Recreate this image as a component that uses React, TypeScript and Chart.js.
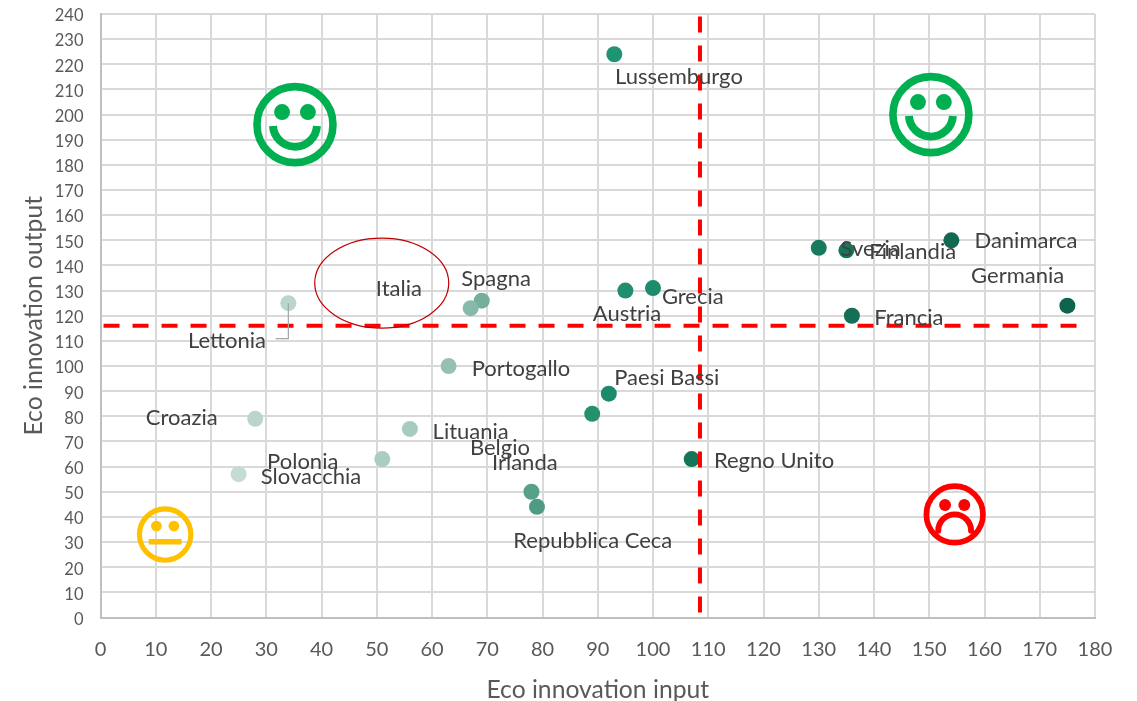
import React, { useEffect, useRef } from "react";
import { Chart, registerables } from "chart.js";

Chart.register(...registerables);

const countries = ["Lussemburgo","Danimarca","Germania","Francia","Svezia","Finlandia","Grecia","Austria","Spagna","Italia","Lettonia","Portogallo","Paesi Bassi","Belgio","Regno Unito","Croazia","Lituania","Polonia","Slovacchia","Irlanda","Repubblica Ceca"];
const inputValues = [93,154,175,136,130,135,100,95,69,67,34,63,92,89,107,28,56,51,25,78,79];
const outputValues = [224,150,124,120,147,146,131,130,126,123,125,100,89,81,63,79,75,63,57,50,44];
const pointColors = ["#1E9473","#116950","#0F644D","#146F56","#177A5E","#157459","#1D8C6C","#218E70","#73AF9C","#86B9A9","#BAD5CC","#96C0B3","#1D8A6B","#24906F","#147558","#BBD5CD","#A8CBBF","#AACDC2","#C4DCD5","#57A08A","#4E9A84"];
const labelX = [104.7,167.5,166,146.3,139.4,147,107.2,95.3,71.6,54,22.9,76.1,102.5,72.3,121.9,14.7,67,36.6,38.1,76.8,89.1];
const labelY = [214.8,149.6,136,119.3,146.4,145.2,127.3,120.9,134.8,130.8,110.1,99,95.4,67.6,62.4,79.5,73.9,62,56,61.6,30.5];
const thresholdInput = 108.5;
const thresholdOutput = 116;
const smileys = [
  { x: 35.2, y: 196, r: 38, color: "#00B050", mood: "happy" },
  { x: 150.3, y: 200, r: 38, color: "#00B050", mood: "happy" },
  { x: 11.7, y: 33, r: 25.7, color: "#FFC000", mood: "neutral" },
  { x: 154.6, y: 41, r: 28.3, color: "#FF0000", mood: "sad" },
];

const annotations = {
  id: "annotations",
  afterDatasetsDraw(chart: any) {
    const { ctx, scales } = chart;
    const X = (v: number) => scales.x.getPixelForValue(v);
    const Y = (v: number) => scales.y.getPixelForValue(v);
    ctx.save();

    // Lettonia leader line
    ctx.strokeStyle = "#A6A6A6";
    ctx.lineWidth = 1.2;
    ctx.beginPath();
    ctx.moveTo(X(34), Y(125));
    ctx.lineTo(X(34), Y(110.9));
    ctx.lineTo(X(31.7), Y(110.9));
    ctx.stroke();

    // Italia ellipse
    ctx.strokeStyle = "#C00000";
    ctx.lineWidth = 1.2;
    ctx.beginPath();
    ctx.ellipse(X(50.9), Y(133), 67, 45, 0, 0, Math.PI * 2);
    ctx.stroke();

    // labels
    ctx.fillStyle = "#404040";
    ctx.font = "22px Lato, 'Open Sans', sans-serif";
    ctx.textAlign = "center";
    ctx.textBaseline = "middle";
    countries.forEach((c, i) => ctx.fillText(c, X(labelX[i]), Y(labelY[i])));

    // smileys
    smileys.forEach((s) => {
      const cx = X(s.x), cy = Y(s.y), r = s.r;
      ctx.strokeStyle = s.color;
      ctx.fillStyle = s.color;
      ctx.lineWidth = r * 0.2;
      ctx.lineCap = "butt";
      ctx.beginPath();
      ctx.arc(cx, cy, r, 0, Math.PI * 2);
      ctx.stroke();
      [-0.34, 0.34].forEach((d) => {
        ctx.beginPath();
        ctx.arc(cx + d * r, cy - r * 0.33, r * 0.21, 0, Math.PI * 2);
        ctx.fill();
      });
      ctx.lineWidth = r * 0.21;
      ctx.beginPath();
      if (s.mood === "happy") {
        ctx.arc(cx, cy, r * 0.58, Math.PI * 0.02, Math.PI * 0.98);
        ctx.stroke();
      } else if (s.mood === "sad") {
        ctx.lineCap = "round";
        ctx.arc(cx, cy + r * 0.58, r * 0.58, Math.PI, Math.PI * 2);
        ctx.stroke();
      } else {
        ctx.moveTo(cx - r * 0.64, cy + r * 0.28);
        ctx.lineTo(cx + r * 0.64, cy + r * 0.28);
        ctx.stroke();
      }
    });
    ctx.restore();
  },
};

export default function App() {
  const ref = useRef<HTMLCanvasElement>(null);
  useEffect(() => {
    const font = "Lato, 'Open Sans', sans-serif";
    const chart = new Chart(ref.current!, {
      type: "scatter",
      data: {
        datasets: [
          {
            label: "input threshold",
            data: [{ x: thresholdInput, y: 239 }, { x: thresholdInput, y: 0 }],
            showLine: true,
            borderColor: "#FF0000",
            borderWidth: 4,
            borderDash: [16, 13],
            pointRadius: 0,
          },
          {
            label: "output threshold",
            data: [{ x: 0.55, y: thresholdOutput }, { x: 177, y: thresholdOutput }],
            showLine: true,
            borderColor: "#FF0000",
            borderWidth: 4,
            borderDash: [16, 13],
            pointRadius: 0,
          },
          {
            label: "paesi",
            data: inputValues.map((x, i) => ({ x, y: outputValues[i] })),
            backgroundColor: pointColors,
            borderWidth: 0,
            pointRadius: 8,
          },
        ],
      } as any,
      options: {
        animation: false,
        responsive: false,
        layout: { padding: { top: 14, right: 42, bottom: 0, left: 0 } },
        plugins: { legend: { display: false }, tooltip: { enabled: false } },
        scales: {
          x: {
            type: "linear",
            min: 0,
            max: 180,
            afterFit: (s: any) => { s.height = 83.5; },
            ticks: { stepSize: 10, color: "#595959", font: { family: font, size: 20 }, padding: 20, maxRotation: 0 },
            grid: { color: "#D9D9D9", lineWidth: 2, drawTicks: false },
            border: { color: "#BFBFBF", width: 2 },
            title: { display: true, text: "Eco innovation input", color: "#595959", font: { family: font, size: 24.7 }, padding: { top: 0, bottom: -4 } },
          },
          y: {
            type: "linear",
            min: 0,
            max: 240,
            afterFit: (s: any) => { s.width = 100.5; s.paddingTop = 0; s.paddingBottom = 0; },
            ticks: { stepSize: 10, color: "#595959", font: { family: font, size: 16.5 }, padding: 17, labelOffset: 2 },
            grid: { color: "#D9D9D9", lineWidth: 2, drawTicks: false },
            border: { color: "#BFBFBF", width: 2 },
            title: { display: true, text: "Eco innovation output", color: "#595959", font: { family: font, size: 24.7 }, padding: { top: 19, bottom: 0 } },
          },
        },
      } as any,
      plugins: [annotations],
    });
    return () => chart.destroy();
  }, []);
  return (
    <div style={{ position: "absolute", left: 0, top: 0, width: 1137, height: 701, background: "#fff" }}>
      <canvas ref={ref} width={1137} height={701} style={{ display: "block" }} />
    </div>
  );
}
